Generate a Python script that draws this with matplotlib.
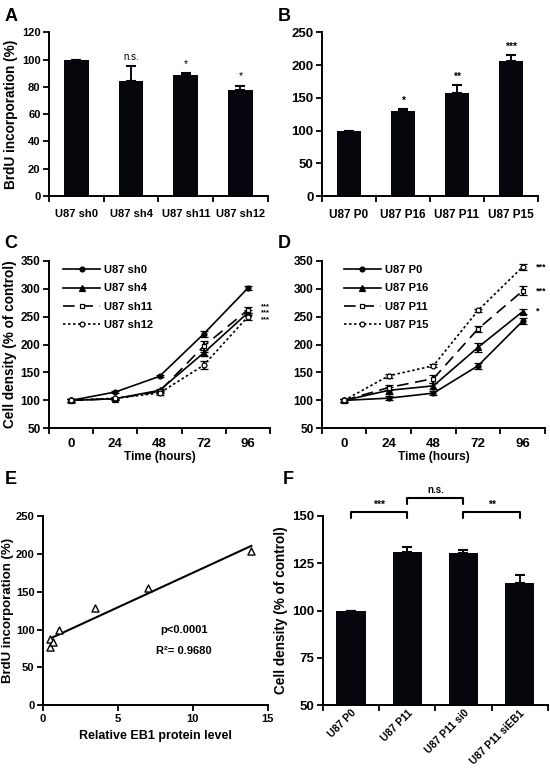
import numpy as np
import matplotlib
matplotlib.use('Agg')
import matplotlib.pyplot as plt

plt.rcParams['font.family'] = ['Liberation Sans', 'DejaVu Sans']
plt.rcParams['font.weight'] = 'bold'
plt.rcParams['axes.labelweight'] = 'bold'
plt.rcParams['font.size'] = 8

# panel A
a_labels = ['U87 sh0', 'U87 sh4', 'U87 sh11', 'U87 sh12']
a_vals = [100, 84, 88.5, 77.5]
a_err = [0, 11.5, 1.8, 3.5]
a_sig = ['', 'n.s.', '*', '*']

# panel B
b_labels = ['U87 P0', 'U87 P16', 'U87 P11', 'U87 P15']
b_vals = [100, 129.5, 157.5, 205.5]
b_err = [0, 3.5, 12, 10]
b_sig = ['', '*', '**', '***']

# panel C / D
hours = [0, 24, 48, 72, 96]
c_names = ['U87 sh0', 'U87 sh4', 'U87 sh11', 'U87 sh12']
c_vals = [[100, 115, 143, 219, 301],
          [100, 103, 118, 185, 257],
          [100, 103, 116, 197, 262],
          [100, 104, 113, 163, 250]]
c_err = [[2, 2, 2, 6, 4],
         [2, 2, 3, 6, 5],
         [2, 2, 3, 10, 6],
         [2, 2, 3, 7, 6]]
c_sig = ['***', '***', '***']
c_sig_y = [268, 256, 244]

d_names = ['U87 P0', 'U87 P16', 'U87 P11', 'U87 P15']
d_vals = [[100, 104, 113, 162, 242],
          [100, 118, 126, 195, 259],
          [100, 123, 139, 228, 296],
          [100, 144, 162, 261, 339]]
d_err = [[2, 3, 3, 5, 5],
         [2, 6, 5, 8, 5],
         [2, 5, 7, 6, 8],
         [2, 4, 3, 3, 5]]
d_sig = ['*', '***', '***']
d_sig_y = [259, 296, 339]

# panel E
e_x = [0.5, 0.5, 0.7, 1.1, 3.5, 7.0, 13.9]
e_y = [87, 77, 83, 100, 128, 155, 204]

# panel F
f_labels = ['U87 P0', 'U87 P11', 'U87 P11 si0', 'U87 P11 siEB1']
f_vals = [100, 131, 130.5, 114.5]
f_err = [0, 2.5, 1.5, 4.5]

styles = [dict(ls='-', marker='o', mfc='black', ms=3.5),
          dict(ls='-', marker='^', mfc='black', ms=4),
          dict(ls=(0, (7, 4)), marker='s', mfc='white', ms=3.5),
          dict(ls=(0, (1.5, 1.5)), marker='o', mfc='white', ms=3.5)]

YLAB = 9.8


def style_axes(ax, size=8):
    for s in ['top', 'right']:
        ax.spines[s].set_visible(False)
    for s in ['left', 'bottom']:
        ax.spines[s].set_linewidth(1.4)
    ax.tick_params(which='both', direction='out', width=1.3, length=4, labelsize=size, pad=2)


def bar_panel(ax, labels, vals, err, width, size=8):
    x = np.arange(len(vals))
    ax.bar(x, vals, width=width, color='#05070d')
    ax.errorbar(x, vals, yerr=[np.zeros(len(err)), err], fmt='none', ecolor='#05070d',
                elinewidth=1.4, capsize=3.5, capthick=1.5)
    ax.set_xlim(-0.5, len(vals) - 0.5)
    ax.set_xticks(x)
    ax.set_xticklabels(labels)
    ax.set_xticks(np.arange(len(vals) + 1) - 0.5, minor=True)
    style_axes(ax, size)
    ax.tick_params(axis='x', which='major', length=0, pad=9)
    return x


def line_panel(ax, names, vals, err, legend_x):
    for i in range(len(names)):
        st = styles[i]
        ax.errorbar(hours, vals[i], yerr=err[i], color='black', lw=1.2, ls=st['ls'],
                    marker=st['marker'], mfc=st['mfc'], mec='black', ms=st['ms'], mew=0.9,
                    elinewidth=1.5, capsize=3, capthick=1.8, label=names[i])
    ax.set_xlim(-12, 108)
    ax.set_ylim(50, 350)
    ax.set_xticks(hours)
    ax.set_xticks([-12, 12, 36, 60, 84, 108], minor=True)
    ax.set_yticks(range(50, 351, 50))
    style_axes(ax, 8.5)
    ax.tick_params(axis='x', which='major', length=0, pad=7, labelsize=9.5)
    ax.set_xlabel('Time (hours)', fontsize=8.6, labelpad=1)
    h, l = ax.get_legend_handles_labels()
    h = [hh[0] for hh in h]
    ax.legend(h, l, loc='upper left', bbox_to_anchor=(legend_x, 1.0), frameon=False,
              borderaxespad=0, handlelength=3.3, handletextpad=0.4, labelspacing=0.75,
              fontsize=8)


fig = plt.figure(figsize=(5.5, 7.69), dpi=100)

# A
axA = fig.add_axes([0.089, 0.745, 0.398, 0.213])
x = bar_panel(axA, a_labels, a_vals, a_err, 0.45)
axA.set_ylim(0, 120)
axA.set_yticks(range(0, 121, 20))
axA.set_ylabel('BrdU incorporation (%)', fontsize=YLAB, labelpad=3)
for i in range(len(x)):
    if a_sig[i]:
        axA.text(x[i], a_vals[i] + a_err[i] + 3, a_sig[i], ha='center', va='bottom',
                 fontsize=7 if a_sig[i] == 'n.s.' else 7.5, fontweight='normal')

# B
axB = fig.add_axes([0.585, 0.745, 0.393, 0.213])
x = bar_panel(axB, b_labels, b_vals, b_err, 0.45, 8.5)
axB.tick_params(axis='y', labelsize=9.5)
axB.set_ylim(0, 250)
axB.set_yticks(range(0, 251, 50))
for i in range(len(x)):
    if b_sig[i]:
        axB.text(x[i], b_vals[i] + b_err[i] + 5, b_sig[i], ha='center', va='bottom', fontsize=7.5)

# C
axC = fig.add_axes([0.089, 0.443, 0.402, 0.218])
line_panel(axC, c_names, c_vals, c_err, 0.045)
axC.set_ylabel('Cell density (% of control)', fontsize=YLAB, labelpad=3)
for s, y in zip(c_sig, c_sig_y):
    axC.text(103, y, s, ha='left', va='center', fontsize=5.5, clip_on=False)

# D
axD = fig.add_axes([0.585, 0.443, 0.406, 0.218])
line_panel(axD, d_names, d_vals, d_err, 0.08)
for s, y in zip(d_sig, d_sig_y):
    axD.text(103, y, s, ha='left', va='center', fontsize=6.5, clip_on=False)

# E
axE = fig.add_axes([0.078, 0.083, 0.409, 0.246])
axE.scatter(e_x, e_y, marker='^', s=26, facecolors='white', edgecolors='black', linewidths=1.0, zorder=3)
k, b = np.polyfit(e_x, e_y, 1)
fx = np.array([min(e_x), max(e_x)])
axE.plot(fx, k * fx + b, color='black', lw=1.5)
axE.set_xlim(0, 15)
axE.set_ylim(0, 250)
axE.set_xticks([0, 5, 10, 15])
axE.set_yticks(range(0, 251, 50))
style_axes(axE)
axE.set_xlabel('Relative EB1 protein level', fontsize=9, labelpad=5)
axE.set_ylabel('BrdU incorporation (%)', fontsize=9.5, labelpad=1)
axE.text(9.4, 100, 'p<0.0001', ha='center', va='center', fontsize=8)
axE.text(9.4, 72, 'R²= 0.9680', ha='center', va='center', fontsize=8)

# F
axF = fig.add_axes([0.587, 0.083, 0.409, 0.246])
x = bar_panel(axF, f_labels, f_vals, f_err, 0.52, 9.5)
axF.set_ylim(50, 150)
axF.set_yticks(range(50, 151, 25))
axF.set_ylabel('Cell density (% of control)', fontsize=YLAB, labelpad=3)
axF.tick_params(axis='x', which='major', pad=2, labelsize=7.5)
plt.setp(axF.get_xticklabels(), rotation=45, ha='right', rotation_mode='anchor')
brackets = [(0, 1, 152, '***'), (1, 2, 159.5, 'n.s.'), (2, 3, 152, '**')]
for x0, x1, y, s in brackets:
    axF.plot([x[x0], x[x0], x[x1], x[x1]], [y - 3, y, y, y - 3], color='black', lw=1.5,
             solid_capstyle='round', solid_joinstyle='round', clip_on=False)
    axF.text((x[x0] + x[x1]) / 2, y + 1.5, s, ha='center', va='bottom',
             fontsize=7 if s == 'n.s.' else 7.5, clip_on=False)

# panel letters
for lbl, px, py in [('A', 0.008, 0.99), ('B', 0.505, 0.99), ('C', 0.008, 0.695),
                    ('D', 0.505, 0.695), ('E', 0.008, 0.388), ('F', 0.515, 0.388)]:
    fig.text(px, py, lbl, fontsize=13, fontweight='bold', va='top', ha='left')

fig.savefig('out.png', dpi=100)
